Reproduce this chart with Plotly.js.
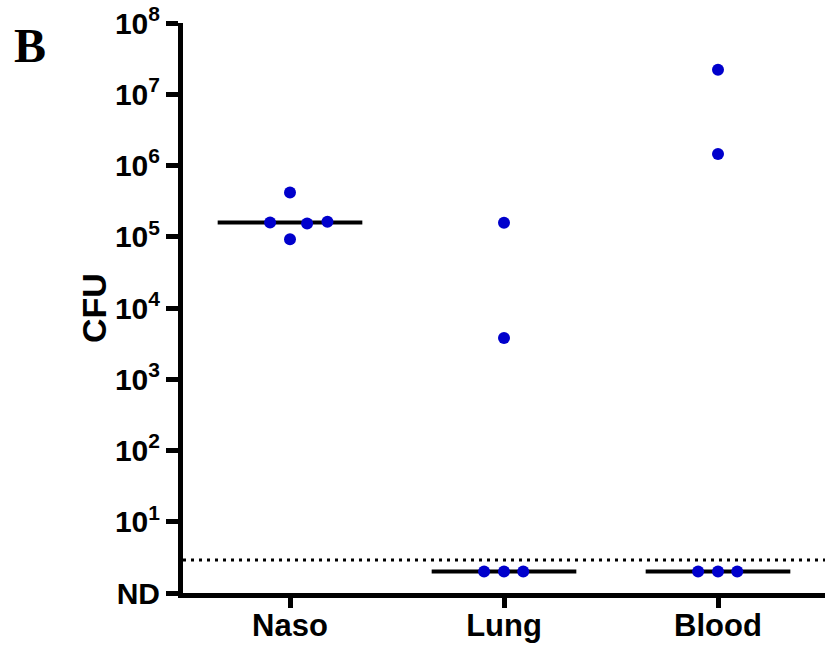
<!DOCTYPE html>
<html>
<head>
<meta charset="utf-8">
<script src="https://cdn.plot.ly/plotly-3.0.1.min.js"></script>
<style>html,body{margin:0;padding:0;background:#fff;}#chart{width:828px;height:650px;}</style>
</head>
<body>
<div id="chart"></div>
<script>
// Data (CFU); ND plotted at ndValue
const categories = ["Naso", "Lung", "Blood"];
const ndValue = 2;
const detectionLimit = 2.9;
const nasoValues = [4.17e5, 1.59e5, 1.53e5, 1.62e5, 9.2e4];
const lungValues = [1.57e5, 3.8e3, ndValue, ndValue, ndValue];
const bloodValues = [2.2e7, 1.45e6, ndValue, ndValue, ndValue];
const nasoJitter = [0, -0.093, 0.08, 0.175, 0];
const lungJitter = [0, 0, -0.093, 0, 0.09];
const bloodJitter = [0, 0, -0.093, 0, 0.09];
const yTickVals = [1, 10, 100, 1e3, 1e4, 1e5, 1e6, 1e7, 1e8];
const yTickText = ["ND", "10<sup>1</sup>", "10<sup>2</sup>", "10<sup>3</sup>", "10<sup>4</sup>", "10<sup>5</sup>", "10<sup>6</sup>", "10<sup>7</sup>", "10<sup>8</sup>"];

const groups = [nasoValues, lungValues, bloodValues];
const jitters = [nasoJitter, lungJitter, bloodJitter];
const medianHalfWidth = 0.338;

function median(arr) {
  const s = arr.slice().sort((a, b) => a - b);
  const m = Math.floor(s.length / 2);
  return s.length % 2 ? s[m] : (s[m - 1] + s[m]) / 2;
}

const traces = [];
groups.forEach((vals, i) => {
  const med = median(vals);
  traces.push({
    type: "scatter", mode: "lines",
    x: [i - medianHalfWidth, i + medianHalfWidth], y: [med, med],
    line: {color: "#000", width: 4},
    hoverinfo: "skip", showlegend: false
  });
});
groups.forEach((vals, i) => {
  traces.push({
    type: "scatter", mode: "markers",
    x: vals.map((v, k) => i + jitters[i][k]), y: vals,
    marker: {color: "rgb(0,0,204)", size: 12},
    name: categories[i], showlegend: false
  });
});

const font = "Arial, 'Liberation Sans', sans-serif";
const layout = {
  width: 828, height: 650,
  margin: {l: 183, r: 3, t: 23, b: 57},
  paper_bgcolor: "#fff", plot_bgcolor: "#fff",
  showlegend: false,
  xaxis: {
    range: [-0.5, 2.5],
    tickvals: [0, 1, 2], ticktext: categories,
    showgrid: false, zeroline: false,
    showline: true, linecolor: "#000", linewidth: 5,
    ticks: "outside", ticklen: 10, tickwidth: 5, tickcolor: "#000",
    ticklabelstandoff: -9,
    tickfont: {family: font, size: 31, color: "#000", weight: "bold"}
  },
  yaxis: {
    type: "log", range: [0, 8],
    tickvals: yTickVals, ticktext: yTickText,
    showgrid: false, zeroline: false,
    showline: true, linecolor: "#000", linewidth: 5,
    ticks: "outside", ticklen: 12, tickwidth: 5, tickcolor: "#000",
    tickfont: {family: font, size: 30, color: "#000", weight: "bold"},
    title: {text: "CFU", font: {family: font, size: 34, color: "#000", weight: "bold"}, standoff: 0}
  },
  shapes: [{
    type: "line", xref: "paper", yref: "y",
    x0: 0, x1: 1, y0: detectionLimit, y1: detectionLimit,
    line: {color: "#000", width: 3, dash: "3px,5px"}
  }],
  annotations: [{
    text: "B", xref: "paper", yref: "paper",
    x: -0.238, y: 0.961, xanchor: "center", yanchor: "middle", showarrow: false,
    font: {family: "'Times New Roman', 'Liberation Serif', serif", size: 48, color: "#000", weight: "bold"}
  }]
};

Plotly.newPlot("chart", traces, layout, {displayModeBar: false, staticPlot: true});
</script>
</body>
</html>
